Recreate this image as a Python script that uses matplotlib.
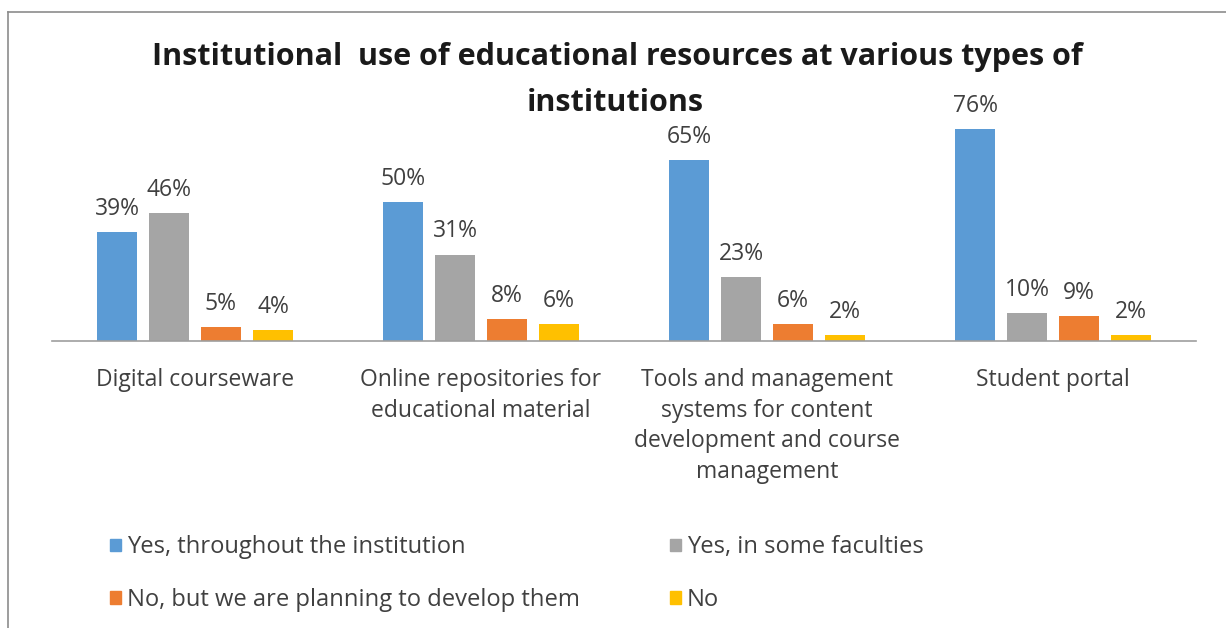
import matplotlib
matplotlib.use("Agg")
import matplotlib.pyplot as plt
from matplotlib.lines import Line2D
from matplotlib.patches import Patch
import numpy as np

plt.rcParams['font.family'] = ['Open Sans', 'DejaVu Sans']

categories = ["Digital courseware",
              "Online repositories for\neducational material",
              "Tools and management\nsystems for content\ndevelopment and course\nmanagement",
              "Student portal"]
series_names = ["Yes, throughout the institution",
                "Yes, in some faculties",
                "No, but we are planning to develop them",
                "No"]
yes_all = [39, 50, 65, 76]
yes_some = [46, 31, 23, 10]
planning = [5, 8, 6, 9]
no = [4, 6, 2, 2]
colors = ["#5B9BD5", "#A5A5A5", "#ED7D31", "#FFC000"]
title_lines = ["Institutional  use of educational resources at various types of",
               "institutions"]

W, H = 1226, 628
fig = plt.figure(figsize=(W / 100, H / 100), dpi=100)

# border
fig.add_artist(Line2D([8 / W, 1], [1 - 12 / H, 1 - 12 / H], color="#8c8c8c", lw=1.2))
fig.add_artist(Line2D([8 / W, 8 / W], [0, 1 - 12 / H], color="#8c8c8c", lw=1.2))

ax_left, ax_right, base, top = 52, 1196, 341, 118
ax = fig.add_axes([ax_left / W, 1 - base / H, (ax_right - ax_left) / W, (base - top) / H])

fs = 16.5
data = [yes_all, yes_some, planning, no]
x = np.arange(len(categories))
step = 52 / 286
width = 40 / 286
offsets = (np.arange(4) - 1.5) * step
for vals, off, c in zip(data, offsets, colors):
    bars = ax.bar(x + off, vals, width, color=c)
    ax.bar_label(bars, labels=[f"{v}%" for v in vals], padding=8, fontsize=fs, color="#404040")

ax.set_xlim(-0.5, 3.5)
ax.set_ylim(0, 80)
for s in ["top", "right", "left"]:
    ax.spines[s].set_visible(False)
ax.spines["bottom"].set_color("#9e9e9e")
ax.spines["bottom"].set_linewidth(1.2)
ax.set_yticks([])
ax.set_xticks(x)
ax.set_xticklabels(categories, fontsize=fs, color="#404040", linespacing=1.37, va="top")
ax.tick_params(axis="x", length=0, pad=19.5)

fig.text(617 / W, 1 - 65 / H, title_lines[0], ha="center", va="baseline", fontsize=22,
         fontweight="bold", color="#1a1a1a")
fig.text(615 / W, 1 - 111 / H, title_lines[1], ha="center", va="baseline", fontsize=22,
         fontweight="bold", color="#1a1a1a")

handles = [Patch(color=colors[0]), Patch(color=colors[2]), Patch(color=colors[1]), Patch(color=colors[3])]
labels = [series_names[0], series_names[2], series_names[1], series_names[3]]
fig.legend(handles, labels, ncol=2, loc="upper left", bbox_to_anchor=(89 / W, 1 - 514 / H),
           frameon=False, fontsize=17.1, handlelength=0.45, handleheight=0.45, handletextpad=0.25,
           labelspacing=1.2, columnspacing=3.8, labelcolor="#404040")

fig.savefig("out.png", dpi=100)
